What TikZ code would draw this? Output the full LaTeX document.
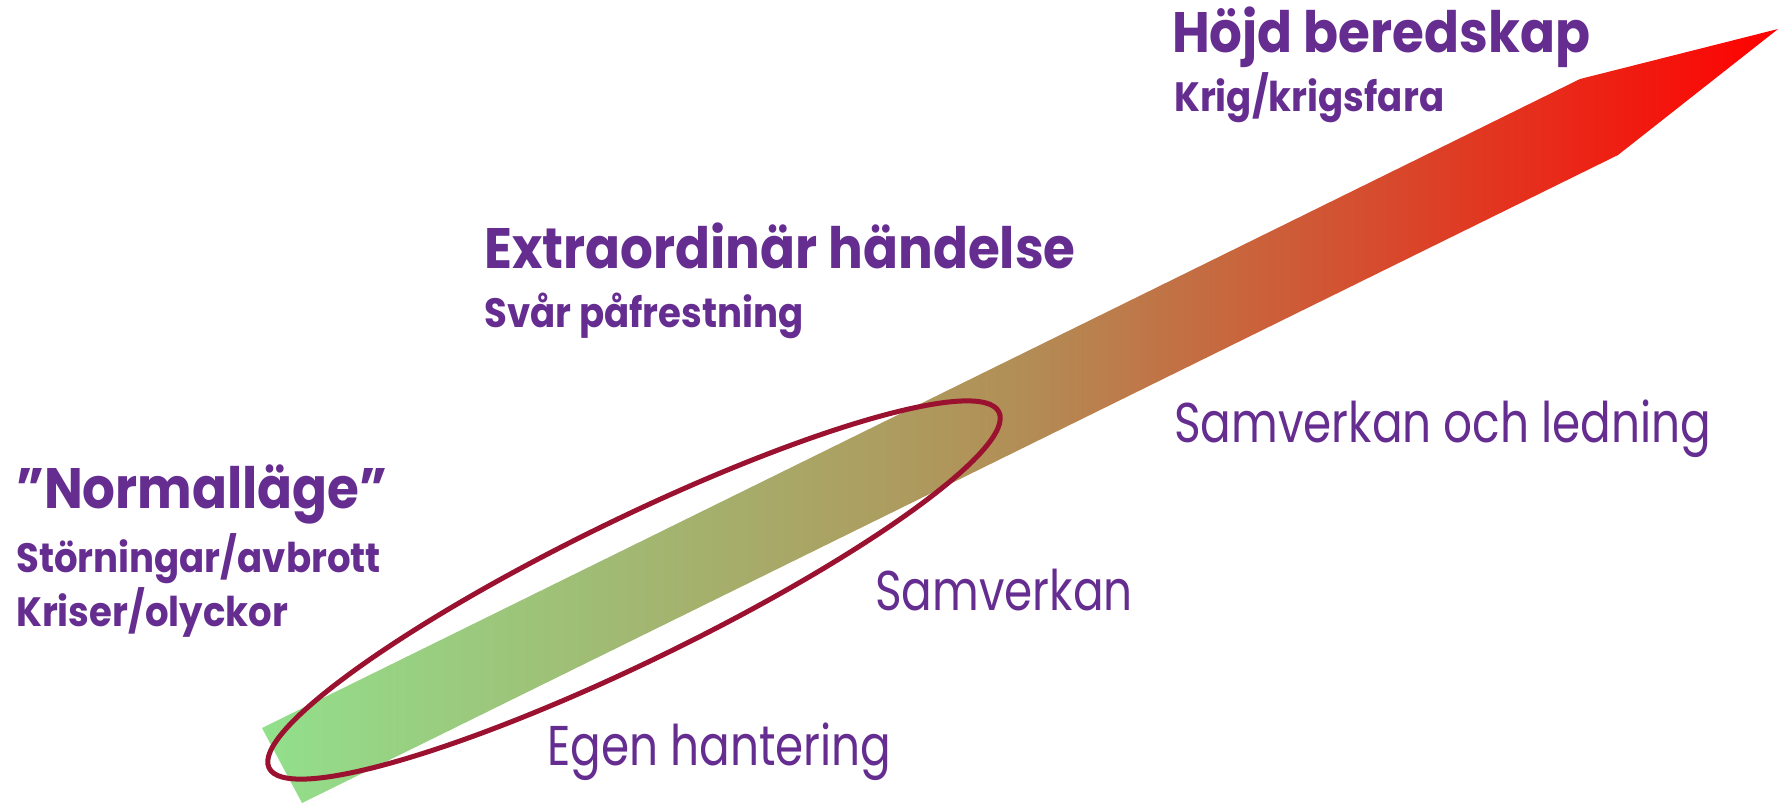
\documentclass[tikz,border=0pt]{standalone}
\usepackage{fontspec}
\setmainfont{Poppins}
\newfontfamily\fetstil{Poppins Bold}[FakeStretch=0.905]
\newfontfamily\tunnstil{Poppins}[FakeStretch=0.81]

\definecolor{lila}{RGB}{102,45,145}
\definecolor{vinrod}{RGB}{155,17,48}
\definecolor{gron}{RGB}{146,224,140}
\definecolor{oliv}{RGB}{178,142,86}

\begin{document}
\begin{tikzpicture}[x=1pt,y=-1pt,
  rubrik/.style={anchor=base west, inner sep=0pt, text=lila, font=\fetstil\fontsize{57}{60}\selectfont},
  underrubrik/.style={anchor=base west, inner sep=0pt, text=lila, font=\fetstil\fontsize{41}{44}\selectfont},
  niva/.style={anchor=base west, inner sep=0pt, text=lila, font=\tunnstil\fontsize{56}{60}\selectfont}]
\useasboundingbox (0,0) rectangle (1784,804);
% pilen
\shade[left color=gron, right color=red, middle color=oliv]
  (262,728) -- (1580,79) -- (1778,29) -- (1618,155) -- (302,803) -- cycle;
% ringen runt egen hantering
\draw[vinrod, line width=5pt, rotate around={26:(634,590)}]
  (634,590) ellipse [x radius=406, y radius=71];

\node[rubrik] (hojd) at (1172,52) {Höjd beredskap};
\node[underrubrik] (krig) at (1174,111) {Krig/krigsfara};
\node[rubrik] (extra) at (484,268) {Extraordinär händelse};
\node[underrubrik] (svar) at (484,327) {Svår påfrestning};
\node[rubrik] (normal) at (16,508) {”Normalläge”};
\node[underrubrik] (storning) at (16,572) {Störningar/avbrott};
\node[underrubrik] (kris) at (16,626) {Kriser/olyckor};
\node[niva] (ledning) at (1174,442) {Samverkan och ledning};
\node[niva] (samverkan) at (875,610) {Samverkan};
\node[niva] (egen) at (547,765) {Egen hantering};
\end{tikzpicture}
\end{document}
